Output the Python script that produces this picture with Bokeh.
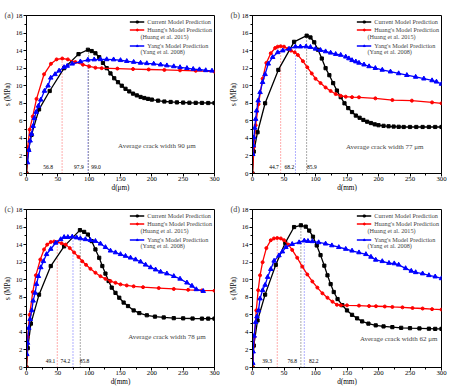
from bokeh.plotting import figure
from bokeh.models import Range1d, SingleIntervalTicker, Legend, LegendItem, Label
from bokeh.layouts import column, row
from bokeh.embed import file_html
from bokeh.resources import INLINE
from bokeh.core.properties import value

FONT = "Liberation Serif"

# ---------------- data ----------------
# panel (a)
a_cur_x = [0, 3, 8, 20, 37, 60, 83, 98, 104, 110, 116, 122, 128, 134, 140, 146, 152, 158, 164, 170, 176, 182, 188, 194, 200, 210, 220, 230, 240, 250, 260, 270, 280, 290, 300]
a_cur_y = [0, 2.7, 4.4, 7.3, 9.4, 12.0, 13.6, 14.1, 13.95, 13.7, 13.25, 12.6, 12.0, 11.4, 10.85, 10.4, 10.0, 9.65, 9.35, 9.1, 8.9, 8.72, 8.6, 8.5, 8.42, 8.3, 8.2, 8.15, 8.1, 8.08, 8.06, 8.05, 8.04, 8.03, 8.03]
a_hu_x = [0, 2, 5, 10, 16, 28, 39, 48, 57, 66, 78, 90, 100, 110, 120, 145, 170, 195, 220, 245, 270, 300]
a_hu_y = [0, 3.0, 5.0, 6.5, 8.5, 11.3, 12.5, 13.0, 13.1, 13.0, 12.7, 12.4, 12.2, 12.05, 12.0, 11.95, 11.9, 11.85, 11.8, 11.75, 11.7, 11.6]
a_ya_x = [1.6, 3.7, 5.8, 8, 10.6, 12.5, 15.4, 19, 22.8, 28.6, 34.4, 38.7, 45.6, 52, 60, 65, 73, 86, 98, 108, 118, 128, 139, 150, 160, 171, 182, 192, 203, 214, 224, 235, 245, 256, 266, 276, 286, 296]
a_ya_y = [1.25, 2.66, 3.73, 4.5, 5.4, 6.3, 7.0, 7.7, 8.4, 9.4, 10.0, 10.9, 11.3, 11.7, 12.1, 12.25, 12.5, 12.75, 12.95, 12.98, 13.0, 13.0, 12.98, 12.9, 12.8, 12.7, 12.6, 12.55, 12.5, 12.4, 12.3, 12.2, 12.1, 12.0, 11.9, 11.85, 11.75, 11.7]
a_peaks = [56.8, 97.9, 99.0]
a_peak_tops = [13.1, 13.0, 14.1]
a_crack = "Average crack width 90 \u03bcm"

# panel (b)
b_cur_x = [0, 2, 8, 20, 41, 66, 86, 92, 98, 104, 110, 116, 122, 128, 134, 140, 146, 152, 158, 164, 170, 176, 182, 188, 194, 200, 208, 216, 224, 232, 240, 250, 260, 270, 280, 290, 300]
b_cur_y = [0, 2.5, 4.7, 8.0, 11.8, 15.0, 15.7, 15.5, 14.95, 14.1, 13.1, 12.0, 11.2, 10.3, 9.45, 8.7, 8.0, 7.45, 7.0, 6.6, 6.35, 6.1, 5.9, 5.75, 5.6, 5.5, 5.43, 5.38, 5.35, 5.32, 5.3, 5.3, 5.3, 5.3, 5.3, 5.3, 5.3]
b_hu_x = [0, 2, 5, 9.5, 16, 22, 29, 36, 40, 44.7, 50, 56, 61, 67, 72, 80, 87, 94, 100, 108, 116, 124, 132, 140, 148, 158, 169, 195, 222, 253, 285, 300]
b_hu_y = [0, 3.0, 5.5, 7.9, 10.8, 12.6, 13.7, 14.3, 14.45, 14.5, 14.45, 14.2, 14.0, 13.8, 13.5, 12.8, 12.1, 11.4, 10.8, 10.3, 9.8, 9.4, 9.05, 8.85, 8.75, 8.7, 8.68, 8.56, 8.37, 8.3, 8.1, 8.0]
b_ya_x = [0.5, 1.2, 2.2, 3.5, 5, 6.5, 9, 12, 16, 20, 25, 32, 40, 48, 58, 68.2, 76, 85, 92, 100, 108, 116, 124, 132, 140, 148, 153, 158, 164, 169, 177, 185, 195, 206, 219, 232, 245, 259, 272, 285, 292, 300]
b_ya_y = [2.2, 3.2, 4.1, 5.2, 6.2, 7.15, 8.3, 9.25, 10.4, 11.3, 12.5, 13.25, 13.8, 14.0, 14.2, 14.45, 14.45, 14.46, 14.4, 14.2, 14.05, 13.9, 13.75, 13.6, 13.5, 13.3, 13.1, 12.9, 12.75, 12.6, 12.4, 12.2, 12.0, 11.8, 11.6, 11.4, 11.2, 11.0, 10.8, 10.6, 10.45, 10.2]
b_peaks = [44.7, 68.2, 85.9]
b_peak_tops = [14.5, 14.45, 15.7]
b_crack = "Average crack width 77 \u03bcm"

# panel (c)
c_cur_x = [0, 2, 7, 20, 38.7, 60, 85.3, 92, 98, 104, 110, 116, 121, 126, 131, 136, 142, 148, 155, 162, 171, 180, 192, 205, 219, 235, 250, 265, 280, 290, 300]
c_cur_y = [0, 2.2, 5.0, 8.3, 11.56, 13.8, 15.65, 15.45, 15.15, 14.4, 13.45, 12.5, 11.56, 10.7, 9.85, 9.1, 8.5, 7.95, 7.4, 7.0, 6.5, 6.2, 5.95, 5.8, 5.7, 5.62, 5.6, 5.58, 5.57, 5.57, 5.57]
c_hu_x = [0, 2, 5, 10, 15, 22, 28, 33, 38.7, 44, 49.1, 56, 62.5, 69, 76, 83, 89, 95, 102, 110, 118, 126, 134, 142, 150, 160, 171, 186, 211, 235, 258, 280, 300]
c_hu_y = [0, 3.5, 6.0, 8.6, 10.5, 12.3, 13.45, 14.0, 14.3, 14.35, 14.3, 14.15, 14.0, 13.6, 13.1, 12.6, 12.1, 11.7, 11.25, 10.8, 10.4, 10.1, 9.85, 9.65, 9.47, 9.35, 9.25, 9.15, 9.05, 8.95, 8.85, 8.78, 8.75]
c_ya_x = [0.5, 1.6, 3.7, 5.8, 8.5, 10.6, 13.8, 16, 19, 22.8, 27, 32, 38.7, 46.6, 54.6, 60, 66, 73, 80, 86, 94, 102, 110, 118, 126, 134, 142, 150, 158, 166, 174, 182, 190, 198, 206, 214, 224, 235, 245, 256, 264, 271, 282]
c_ya_y = [1.5, 2.8, 4.5, 5.5, 6.5, 7.6, 8.5, 9.5, 10.4, 11.4, 12.1, 12.9, 13.5, 14.2, 14.6, 14.85, 14.85, 14.9, 14.8, 14.7, 14.6, 14.5, 14.4, 14.1, 13.7, 13.3, 13.1, 12.9, 12.7, 12.5, 12.3, 12.05, 11.7, 11.4, 11.15, 10.9, 10.7, 10.4, 10.1, 9.66, 9.3, 8.9, 8.7]
c_peaks = [49.1, 74.2, 85.8]
c_peak_tops = [14.3, 14.9, 15.65]
c_crack = "Average crack width 78 \u03bcm"

# panel (d)
d_cur_x = [0, 2, 8, 20, 37, 52, 66, 76.8, 84.5, 90, 96, 102, 108, 114, 119, 124, 129, 135, 142.6, 150, 158, 166, 174, 184, 195.6, 208, 222, 236, 250, 265, 280, 290, 300]
d_cur_y = [0, 2.5, 5.36, 8.3, 11.7, 14.2, 16.0, 16.2, 16.05, 15.6, 14.9, 13.9, 12.8, 11.6, 10.5, 9.5, 8.6, 7.8, 7.1, 6.5, 6.0, 5.6, 5.25, 5.0, 4.8, 4.68, 4.6, 4.52, 4.48, 4.45, 4.42, 4.4, 4.4]
d_hu_x = [0, 3, 6, 9, 12, 16, 22, 29, 34, 39.3, 45, 50, 57, 63, 71, 79, 87, 95, 103, 111, 119, 127, 134, 140, 150, 169, 185, 196, 210, 222, 238, 254, 270, 285, 300]
d_hu_y = [0, 3.5, 6.5, 8.8, 10.5, 12.0, 13.6, 14.5, 14.7, 14.75, 14.7, 14.5, 14.0, 13.4, 12.5, 11.5, 10.6, 9.8, 9.1, 8.45, 7.95, 7.5, 7.15, 7.1, 7.08, 7.05, 7.0, 6.98, 6.95, 6.9, 6.85, 6.78, 6.72, 6.65, 6.6]
d_ya_x = [0.5, 1, 2.6, 5, 7, 9.5, 12, 16, 20, 24, 29, 34.3, 42, 47.5, 53, 63, 74, 82.2, 88, 95, 105, 116, 126, 137, 148, 158, 169, 180, 188, 195.6, 206, 216.6, 225, 232, 243, 252, 259, 270, 280, 290, 300]
d_ya_y = [0.5, 1.8, 3.6, 5.17, 5.8, 6.5, 7.85, 8.8, 9.4, 10.3, 11.2, 12.15, 12.76, 13.2, 13.7, 14.06, 14.25, 14.45, 14.4, 14.37, 14.25, 14.1, 13.9, 13.7, 13.5, 13.3, 13.1, 12.9, 12.6, 12.26, 12.1, 11.9, 11.85, 11.7, 11.3, 11.0, 10.84, 10.7, 10.5, 10.35, 10.15]
d_peaks = [39.3, 76.8, 82.2]
d_peak_tops = [14.75, 16.2, 14.45]
d_crack = "Average crack width 62 \u03bcm"

x_ticks_interval = 50
y_ticks_interval = 2
legend_labels = ["Current Model Prediction", "Huang's Model Prediction", "Yang's Model Prediction"]
citations = ["(Huang et al. 2015)", "(Yang et al. 2008)"]

BLACK, RED, BLUE = "#000000", "#ff0000", "#0000ff"
PK_RED, PK_BLUE, PK_GRAY = "#ff5a5a", "#6060ff", "#555555"


def make_panel(tag, xlabel, cx, cy, hx, hy, yx, yy, peaks, tops, pk_colors, pk_label_x,
               crack, crack_xy, fw, fh, bl, br, bt, bb):
    p = figure(frame_width=fw, frame_height=fh, x_range=Range1d(0, 300), y_range=Range1d(0, 18),
               output_backend="svg", toolbar_location=None,
               min_border_left=bl, min_border_right=br, min_border_top=bt, min_border_bottom=bb)
    p.title.text = tag
    p.title.align = "left"
    p.title.offset = -22
    p.title.standoff = -8
    p.title.text_font = FONT
    p.title.text_font_size = "8px"
    p.title.text_font_style = "normal"
    p.title.vertical_align = "bottom"
    p.grid.visible = False
    p.outline_line_color = "black"
    p.outline_line_alpha = 1
    p.outline_line_width = 1
    p.xaxis.ticker = SingleIntervalTicker(interval=x_ticks_interval, num_minor_ticks=2)
    p.yaxis.ticker = SingleIntervalTicker(interval=y_ticks_interval, num_minor_ticks=2)
    for ax in (p.xaxis[0], p.yaxis[0]):
        ax.axis_line_color = "black"
        ax.major_tick_line_color = "black"
        ax.minor_tick_line_color = "black"
        ax.major_tick_out = 3
        ax.major_tick_in = 0
        ax.minor_tick_out = 2
        ax.minor_tick_in = 0
        ax.major_label_text_font = FONT
        ax.major_label_text_font_size = "6.8px"
        ax.major_label_text_color = "black"
        ax.major_label_standoff = 0
        ax.axis_label_text_font = FONT
        ax.axis_label_text_font_size = "7.2px"
        ax.axis_label_text_font_style = "normal"
        ax.axis_label_text_color = "black"
        ax.axis_label_standoff = 0
    p.yaxis.major_label_standoff = 1
    p.yaxis.axis_label_standoff = 1
    p.xaxis.axis_label = xlabel
    p.yaxis.axis_label = "s (MPa)"

    # peak marker lines
    p.segment(x0=peaks, y0=[0] * 3, x1=peaks, y1=tops, line_color=pk_colors,
              line_dash="1 2", line_width=1)
    p.text(x=pk_label_x, y=[0.7] * 3, text=["%.1f" % v for v in peaks],
           text_align="center", text_baseline="middle",
           text_font=value(FONT), text_font_size="5.5px", text_color="black")

    r1 = p.line(cx, cy, line_color=BLACK, line_width=1.3)
    s1 = p.scatter(cx, cy, marker="square", size=3.2, color=BLACK)
    r2 = p.line(hx, hy, line_color=RED, line_width=1.3)
    s2 = p.scatter(hx, hy, marker="circle", size=3, color=RED)
    r3 = p.line(yx, yy, line_color=BLUE, line_width=1.3)
    s3 = p.scatter(yx, yy, marker="triangle", size=4.5, color=BLUE)
    blank = p.line([], [], line_alpha=0)

    legend = Legend(items=[
        LegendItem(label=legend_labels[0], renderers=[r1, s1]),
        LegendItem(label=legend_labels[1], renderers=[r2, s2]),
        LegendItem(label=" ", renderers=[blank]),
        LegendItem(label=legend_labels[2], renderers=[r3, s3]),
        LegendItem(label="  ", renderers=[blank]),
    ], location="top_right", glyph_width=15, glyph_height=5, label_height=8,
        spacing=0, padding=1, margin=1, label_standoff=3,
        label_text_font=FONT, label_text_font_size="6.2px",
        border_line_alpha=0, background_fill_alpha=0)
    p.add_layout(legend)

    for i, txt in enumerate(citations):
        off = [20.7, 36.0][i]
        p.add_layout(Label(x=300 - 74 * 300 / fw, y=18 - off * 18 / fh, text=txt,
                           text_font=FONT, text_font_size="6.2px",
                           text_align="left", text_baseline="middle"))

    p.add_layout(Label(x=crack_xy[0], y=crack_xy[1], text=crack, text_font=FONT,
                       text_font_size="7px", text_align="center", text_baseline="middle"))
    return p


pa = make_panel("(a)", "d(\u03bcm)", a_cur_x, a_cur_y, a_hu_x, a_hu_y, a_ya_x, a_ya_y,
                a_peaks, a_peak_tops, [PK_RED, PK_BLUE, PK_GRAY], [34.6, 83.5, 111],
                a_crack, (208, 3.08), 188, 158, 26, 11, 15, 22)
pb = make_panel("(b)", "d(mm)", b_cur_x, b_cur_y, b_hu_x, b_hu_y, b_ya_x, b_ya_y,
                b_peaks, b_peak_tops, [PK_RED, PK_BLUE, PK_GRAY], [34.1, 58.5, 94.2],
                b_crack, (210, 3.0), 189, 158, 27, 9, 15, 22)
pc = make_panel("(c)", "d(mm)", c_cur_x, c_cur_y, c_hu_x, c_hu_y, c_ya_x, c_ya_y,
                c_peaks, c_peak_tops, [PK_RED, PK_BLUE, PK_GRAY], [38.3, 62, 92.5],
                c_crack, (224, 3.5), 188, 158, 26, 11, 14, 24)
pd_ = make_panel("(d)", "d(mm)", d_cur_x, d_cur_y, d_hu_x, d_hu_y, d_ya_x, d_ya_y,
                 d_peaks, d_peak_tops, [PK_RED, PK_GRAY, PK_BLUE], [23.3, 63, 97.3],
                 d_crack, (232, 3.3), 189, 158, 27, 9, 14, 24)

layout = column(row(pa, pb), row(pc, pd_))
open("out.html", "w").write(file_html(layout, INLINE))
